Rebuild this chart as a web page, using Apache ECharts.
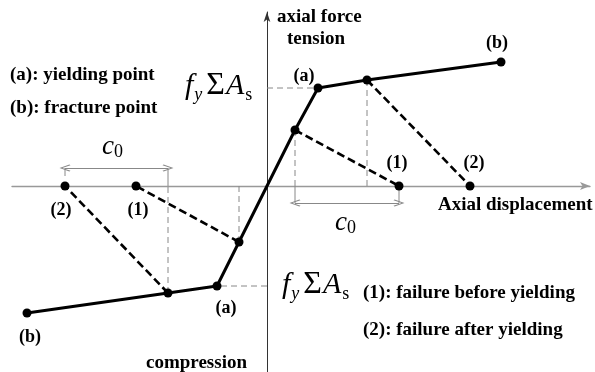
<!DOCTYPE html>
<html>
<head>
<meta charset="utf-8">
<script src="https://cdn.jsdelivr.net/npm/echarts@6/dist/echarts.min.js"></script>
<style>
  html, body { margin: 0; padding: 0; background: #fff; }
  #chart { width: 595px; height: 372px; }
</style>
</head>
<body>
<div id="chart"></div>
<script>
// backbone curve: axial displacement vs axial force (force in units of fy*As)
const backboneDisp = [-4.8, -1.98, -1.0, -0.56, 0, 0.56, 1.02, 2.0, 4.68];
const backboneForce = [-1.27, -1.07, -1.0, -0.56, 0, 0.56, 0.98, 1.06, 1.24];

// failure paths (1) before yielding, (2) after yielding
const failTension1 = [[0.56, 0.56], [2.64, 0]];
const failTension2 = [[2.0, 1.06], [4.06, 0]];
const failCompr1 = [[-0.56, -0.56], [-2.62, 0]];
const failCompr2 = [[-1.98, -1.07], [-4.04, 0]];

const yieldTension = [1.02, 0.98];
const yieldCompr = [-1.0, -1.0];

const serif = 'Liberation Serif';
const chev = 'path://M5,0 L10,9 L9,10 L5,2.6 L1,10 L0,9 Z';

const backbone = backboneDisp.map((d, i) => [d, backboneForce[i]]);

function seg(data, style) {
	return {
		type: 'line',
		data: data,
		symbol: 'none',
		silent: true,
		lineStyle: style,
		z: 2
	};
}

const guide = { color: '#888', width: 1, type: [6, 4] };
const bar = { color: '#888', width: 1, type: 'solid' };
const failStyle = { color: '#000', width: 2.6, type: [8, 4] };

// point labels
const noLabel = { show: false };
const dots = [
	{ value: backbone[6], label: { formatter: '(a)', offset: [-14, -12] } },
	{ value: backbone[8], label: { formatter: '(b)', offset: [-4, -19] } },
	{ value: backbone[5], label: noLabel },
	{ value: backbone[7], label: noLabel },
	{ value: failTension1[1], label: { formatter: '(1)', offset: [-2, -23] } },
	{ value: failTension2[1], label: { formatter: '(2)', offset: [4, -23] } },
	{ value: backbone[2], label: { formatter: '(a)', offset: [9, 22] } },
	{ value: backbone[0], label: { formatter: '(b)', offset: [3, 24] } },
	{ value: backbone[3], label: noLabel },
	{ value: backbone[1], label: noLabel },
	{ value: failCompr1[1], label: { formatter: '(1)', offset: [2, 24] } },
	{ value: failCompr2[1], label: { formatter: '(2)', offset: [-4, 24] } }
];

const chart = echarts.init(document.getElementById('chart'));

function note(text, x, y) {
	return {
		type: 'text',
		x: x,
		y: y,
		style: {
			text: text,
			fontFamily: serif,
			fontSize: 19,
			fontWeight: 'bold',
			fill: '#000',
			verticalAlign: 'middle'
		}
	};
}
const mathRich = {
	i: { fontFamily: serif, fontStyle: 'italic', fontSize: 30, lineHeight: 36, verticalAlign: 'middle', fill: '#000' },
	n: { fontFamily: serif, fontSize: 32, lineHeight: 36, verticalAlign: 'middle', fill: '#000', padding: [0, 1, 0, 4] },
	si: { fontFamily: serif, fontStyle: 'italic', fontSize: 18, lineHeight: 18, verticalAlign: 'bottom', fill: '#000', padding: [0, 0, 0, 1] },
	s: { fontFamily: serif, fontSize: 18, lineHeight: 18, verticalAlign: 'bottom', fill: '#000', padding: [0, 0, 0, 1] }
};
const fyAs = '{i|f}{si|y}{n|\u03a3}{i|A}{s|s}';
const c0 = '{c|c}{z|0}';
const c0Rich = {
	c: { fontFamily: serif, fontStyle: 'italic', fontSize: 27, lineHeight: 30, verticalAlign: 'middle', fill: '#000' },
	z: { fontFamily: serif, fontSize: 18, lineHeight: 18, verticalAlign: 'bottom', fill: '#000' }
};

const option = {
	animation: false,
	grid: { left: 12, right: 5, top: 12, bottom: 0 },
	xAxis: {
		type: 'value',
		min: -5.1,
		max: 6.46,
		axisLine: {
			show: true,
			onZero: true,
			symbol: ['none', 'arrow'],
			symbolSize: [6, 10],
			lineStyle: { color: '#999', width: 1.4 }
		},
		axisTick: { show: false },
		axisLabel: { show: false },
		splitLine: { show: false }
	},
	yAxis: {
		type: 'value',
		min: -1.86,
		max: 1.74,
		axisLine: {
			show: true,
			onZero: true,
			symbol: ['none', 'arrow'],
			symbolSize: [5, 10],
			lineStyle: { color: '#333', width: 1 }
		},
		axisTick: { show: false },
		axisLabel: { show: false },
		splitLine: { show: false }
	},
	series: [
		// guide lines
		seg([[backbone[5][0], backbone[5][1]], [backbone[5][0], 0]], guide),
		seg([[backbone[7][0], backbone[7][1]], [backbone[7][0], 0]], guide),
		seg([[backbone[3][0], backbone[3][1]], [backbone[3][0], 0]], guide),
		seg([[backbone[1][0], backbone[1][1]], [backbone[1][0], 0]], guide),
		seg([[0, yieldTension[1]], yieldTension], guide),
		seg([[0, yieldCompr[1]], yieldCompr], guide),
		// dimension extension bars
		seg([[failCompr2[1][0], 0.1], [failCompr2[1][0], 0.18]], bar),
		seg([[backbone[1][0], 0], [backbone[1][0], 0.18]], bar),
		seg([[backbone[5][0], 0], [backbone[5][0], -0.17]], bar),
		seg([[failTension1[1][0], -0.04], [failTension1[1][0], -0.17]], bar),
		{
			type: 'line',
			data: [],
			markLine: {
				silent: true,
				symbol: [chev, chev],
				symbolSize: [7, 11],
				label: { show: false },
				lineStyle: { color: '#888', width: 1, type: 'solid' },
				data: [
					[{ coord: [failCompr2[1][0], 0.18] }, { coord: [backbone[1][0], 0.18] }],
					[{ coord: [backbone[5][0], -0.17] }, { coord: [failTension1[1][0], -0.17] }]
				]
			}
		},
		// failure paths
		seg(failTension1, failStyle),
		seg(failTension2, failStyle),
		seg(failCompr1, failStyle),
		seg(failCompr2, failStyle),
		// backbone
		seg(backbone, { color: '#000', width: 3 }),
		{
			type: 'scatter',
			data: dots,
			symbol: 'circle',
			symbolSize: 9,
			silent: true,
			itemStyle: { color: '#000', opacity: 1 },
			label: {
				show: true,
				position: 'inside',
				fontFamily: serif,
				fontSize: 18,
				fontWeight: 'bold',
				color: '#000'
			},
			z: 5
		}
	],
	graphic: [
		note('axial force', 277, 17),
		note('tension', 287, 39),
		note('(a): yielding point', 10, 75),
		note('(b): fracture point', 10, 108),
		note('Axial displacement', 438, 205),
		note('(1): failure before yielding', 363, 293),
		note('(2): failure after yielding', 363, 330),
		note('compression', 146, 363),
		{ type: 'text', left: 185, top: 70, style: { text: fyAs, rich: mathRich } },
		{ type: 'text', left: 282, top: 269, style: { text: fyAs, rich: mathRich } },
		{ type: 'text', left: 102, top: 133, style: { text: c0, rich: c0Rich } },
		{ type: 'text', left: 335, top: 209, style: { text: c0, rich: c0Rich } }
	]
};

chart.setOption(option);
</script>
</body>
</html>
